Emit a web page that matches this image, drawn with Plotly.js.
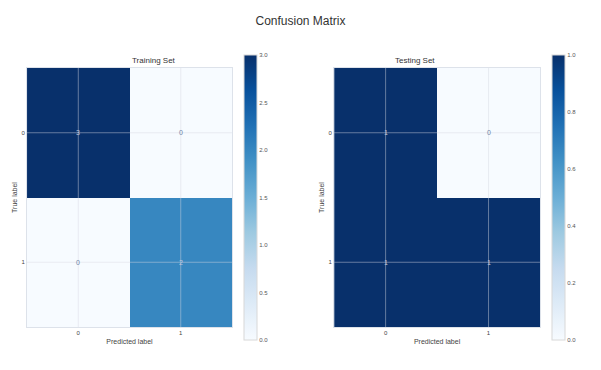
<!DOCTYPE html>
<html><head><meta charset="utf-8">
<script src="https://cdn.plot.ly/plotly-3.0.1.min.js"></script>
<style>html,body{margin:0;padding:0;background:#fff}#chart{width:601px;height:370px}</style>
</head><body><div id="chart"></div>
<script>
const labels = [0, 1];
const trainMatrix = [[3, 0], [0, 2]];
const testMatrix = [[1, 0], [1, 1]];
const trainTitle = "Training Set";
const testTitle = "Testing Set";

const blues = [[0,'#f7fbff'],[0.125,'#deebf7'],[0.25,'#c6dbef'],[0.375,'#9ecae1'],[0.5,'#6baed6'],[0.625,'#4292c6'],[0.75,'#2171b5'],[0.875,'#08519c'],[1,'#08306b']];
const font = "Liberation Sans, Arial, sans-serif";

function cb(x, dtick) {
  return {x: x, xanchor: 'left', xpad: 0, ypad: 0, thickness: 13, len: 285 / 370, lenmode: 'fraction',
    y: 1 - 197.5 / 370, yanchor: 'middle',
    outlinewidth: 1, outlinecolor: '#d8d8d8', tickformat: '.1f', dtick: dtick, tick0: 0,
    ticks: '', tickfont: {size: 6, color: '#555', family: font}, ticklabelpad: 3};
}

const traces = [
  {type: 'heatmap', x: labels, y: labels, z: trainMatrix, colorscale: blues, zmin: 0, zmax: 3,
   xaxis: 'x', yaxis: 'y', colorbar: cb(244 / 601, 0.5), hoverinfo: 'z'},
  {type: 'heatmap', x: labels, y: labels, z: testMatrix, colorscale: blues, zmin: 0, zmax: 1,
   xaxis: 'x2', yaxis: 'y2', colorbar: cb(552 / 601, 0.2), hoverinfo: 'z'}
];

const annotations = [];
const shapes = [];
function addCells(m, xa, ya, maxv) {
  m.forEach((row, i) => row.forEach((v, j) => {
    annotations.push({x: labels[j], y: labels[i], xref: xa, yref: ya, text: String(v), showarrow: false,
      font: {size: 7, family: font, color: v > maxv / 2 ? '#c0c8dc' : '#6f84a8'}});
  }));
  labels.forEach(l => {
    shapes.push({type: 'line', xref: xa, yref: ya + ' domain', x0: l, x1: l, y0: 0, y1: 1, layer: 'above',
      line: {color: 'rgba(215,218,226,0.45)', width: 1}});
    shapes.push({type: 'line', xref: xa + ' domain', yref: ya, x0: 0, x1: 1, y0: l, y1: l, layer: 'above',
      line: {color: 'rgba(215,218,226,0.45)', width: 1}});
  });
}
addCells(trainMatrix, 'x', 'y', 3);
addCells(testMatrix, 'x2', 'y2', 1);

annotations.push({text: trainTitle, xref: 'paper', yref: 'paper', x: (0.045 + 0.386) / 2, y: 1 - 61 / 370, showarrow: false,
  font: {size: 8, family: font, color: '#333'}, yanchor: 'middle'});
annotations.push({text: testTitle, xref: 'paper', yref: 'paper', x: (0.556 + 0.8985) / 2, y: 1 - 61 / 370, showarrow: false,
  font: {size: 8, family: font, color: '#333'}, yanchor: 'middle'});

function xax(dom, anchor) {
  return {domain: dom, anchor: anchor, range: [-0.5, 1.5], tickvals: labels, ticktext: labels.map(String),
    showgrid: false, zeroline: false, ticks: '', showline: true, mirror: true, linecolor: '#dde2ea', linewidth: 1,
    tickfont: {size: 6, color: '#444', family: font},
    title: {text: 'Predicted label', font: {size: 7, color: '#444', family: font}, standoff: 3}};
}
function yax(anchor) {
  return {domain: [0.1162, 0.8162], anchor: anchor, range: [1.5, -0.5], tickvals: labels, ticktext: labels.map(String),
    showgrid: false, zeroline: false, ticks: '', showline: true, mirror: true, linecolor: '#dde2ea', linewidth: 1,
    tickfont: {size: 6, color: '#444', family: font},
    title: {text: 'True label', font: {size: 7, color: '#444', family: font}, standoff: 3}};
}

const layout = {
  width: 601, height: 370, margin: {l: 0, r: 0, t: 0, b: 0},
  paper_bgcolor: '#fff', plot_bgcolor: '#fff',
  title: {text: 'Confusion Matrix', x: 0.5, xanchor: 'center', y: 0.945, yanchor: 'middle',
    font: {size: 12, family: font, color: '#333'}},
  xaxis: xax([0.045, 0.386], 'y'), yaxis: yax('x'),
  xaxis2: xax([0.556, 0.8985], 'y2'), yaxis2: yax('x2'),
  annotations: annotations, shapes: shapes, showlegend: false
};

Plotly.newPlot('chart', traces, layout, {displayModeBar: false, staticPlot: true});
</script></body></html>
